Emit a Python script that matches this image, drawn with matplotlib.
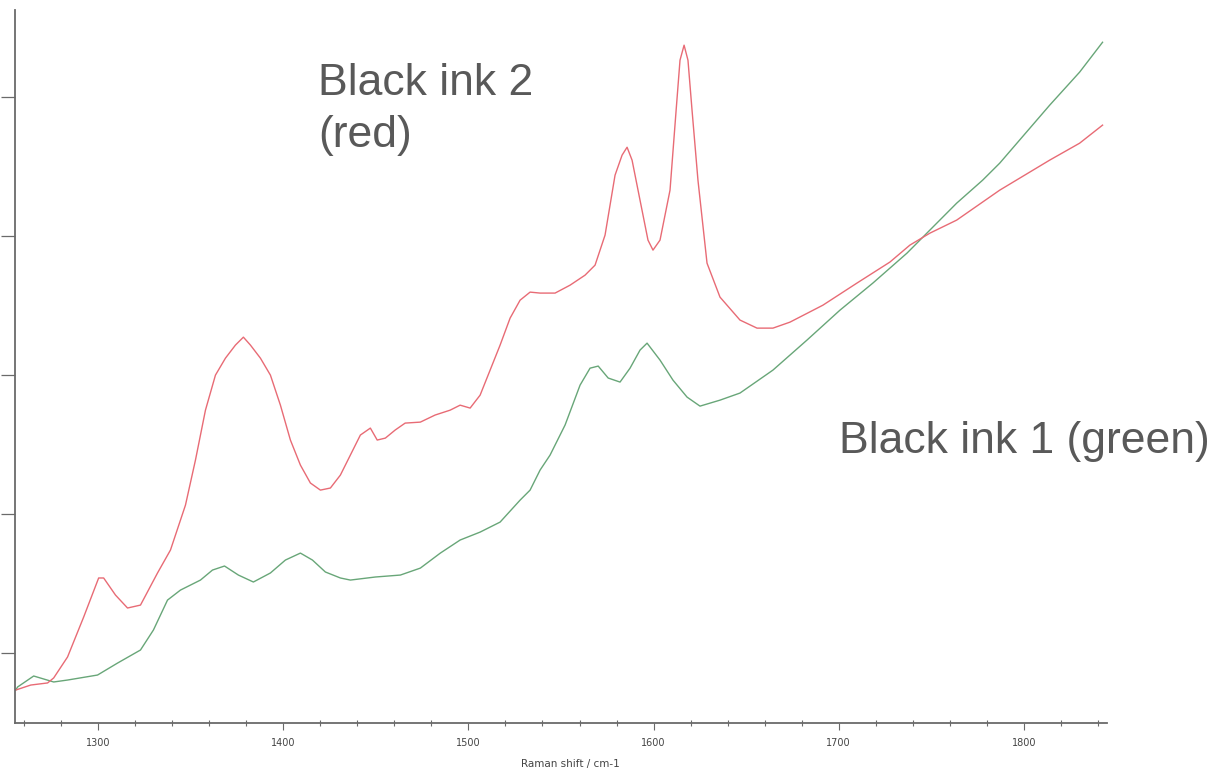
import matplotlib
matplotlib.use('Agg')
import matplotlib.pyplot as plt
from matplotlib.ticker import MultipleLocator, NullFormatter

# Raman spectra of two black inks (wavenumber in cm-1, intensity in counts)
red_shift = [1255.4, 1263.5, 1272.6, 1275.9, 1283.4, 1292.1, 1300.2, 1302.9, 1309.3, 1315.8,
             1322.8, 1332.0, 1339.0, 1347.1, 1352.5, 1357.9, 1363.3, 1368.7, 1374.1, 1378.4,
             1382.2, 1387.6, 1393.0, 1398.4, 1403.8, 1409.2, 1414.6, 1420.0, 1425.4, 1430.8,
             1436.2, 1441.6, 1447.0, 1450.7, 1455.1, 1460.4, 1465.8, 1474.0, 1482.0, 1490.1,
             1495.5, 1500.9, 1506.3, 1511.7, 1517.1, 1522.5, 1527.9, 1533.3, 1538.7, 1546.8,
             1554.9, 1563.0, 1568.4, 1573.8, 1579.2, 1583.0, 1585.7, 1588.4, 1592.7, 1597.0,
             1599.7, 1603.5, 1608.9, 1612.2, 1614.3, 1616.5, 1618.6, 1620.8, 1624.0, 1628.9,
             1635.9, 1646.7, 1655.9, 1664.5, 1673.7, 1691.5, 1709.9, 1727.7, 1738.5, 1749.3,
             1763.8, 1787.0, 1814.0, 1830.2, 1842.6]
red_counts = [237, 273, 288, 324, 475, 762, 1043, 1043, 920, 827,
              848, 1079, 1244, 1567, 1891, 2250, 2502, 2624, 2718, 2775,
              2718, 2624, 2502, 2286, 2035, 1855, 1726, 1675, 1690, 1783,
              1927, 2071, 2121, 2035, 2049, 2107, 2157, 2164, 2215, 2250,
              2286, 2265, 2358, 2538, 2718, 2912, 3041, 3099, 3092, 3092,
              3149, 3221, 3293, 3509, 3940, 4084, 4141, 4048, 3760, 3473,
              3401, 3473, 3832, 4407, 4767, 4875, 4767, 4407, 3904, 3307,
              3063, 2898, 2840, 2840, 2883, 3005, 3164, 3315, 3437, 3523,
              3617, 3832, 4048, 4170, 4300]

green_shift = [1255.4, 1256.4, 1265.1, 1275.9, 1283.4, 1299.6, 1310.4, 1322.8, 1329.8, 1337.4,
               1344.4, 1355.2, 1361.7, 1368.2, 1375.7, 1383.8, 1393.0, 1401.1, 1409.2, 1415.7,
               1422.7, 1430.8, 1436.2, 1449.7, 1463.2, 1474.0, 1484.8, 1495.5, 1506.3, 1517.1,
               1527.9, 1533.3, 1538.7, 1544.1, 1552.2, 1560.3, 1565.7, 1570.1, 1575.5, 1581.9,
               1587.3, 1592.7, 1596.5, 1603.5, 1610.5, 1618.1, 1625.1, 1635.9, 1646.7, 1664.5,
               1682.9, 1700.7, 1718.5, 1736.9, 1749.3, 1763.8, 1777.8, 1787.0, 1814.0, 1830.2,
               1842.6]
green_counts = [237, 259, 338, 295, 309, 345, 431, 525, 669, 884,
                956, 1028, 1100, 1129, 1064, 1014, 1079, 1172, 1222, 1172,
                1086, 1043, 1028, 1050, 1064, 1114, 1222, 1316, 1373, 1445,
                1603, 1675, 1819, 1927, 2143, 2430, 2552, 2567, 2481, 2452,
                2552, 2682, 2732, 2610, 2466, 2344, 2279, 2322, 2373, 2538,
                2754, 2969, 3164, 3379, 3545, 3739, 3904, 4026, 4443, 4681,
                4896]

x_major = [1300, 1400, 1500, 1600, 1700, 1800]
y_major = [500, 1500, 2500, 3500, 4500]

fig = plt.figure(figsize=(12.21, 7.74), dpi=100)
ax = fig.add_axes([15 / 1221, 51 / 774, 1092 / 1221, 713 / 774])

ax.plot(green_shift, green_counts, color='#68a678', lw=1.0)
ax.plot(red_shift, red_counts, color='#e86b75', lw=1.0)

ax.set_xlim(1255, 1845)
ax.set_ylim(0, 5128)

for side in ('top', 'right'):
    ax.spines[side].set_visible(False)
for side in ('left', 'bottom'):
    ax.spines[side].set_color('#6a6a6a')
    ax.spines[side].set_linewidth(1.3)

ax.set_xticks(x_major)
ax.set_xticklabels([str(v) for v in x_major])
ax.xaxis.set_minor_locator(MultipleLocator(20))
ax.tick_params(axis='x', which='major', direction='out', length=5, width=0.8,
               color='#6a6a6a', labelsize=7, labelcolor='#444444', pad=6)
ax.tick_params(axis='x', which='minor', direction='inout', length=4, width=0.8,
               color='#6a6a6a')

ax.set_yticks(y_major)
ax.yaxis.set_major_formatter(NullFormatter())
ax.tick_params(axis='y', which='major', direction='out', length=10, width=0.9,
               color='#6a6a6a')

ax.set_xlabel('Raman shift / cm-1', fontsize=7.5, color='#444444')
ax.xaxis.set_label_coords(0.509, -0.05)

label_font = dict(family=['Liberation Sans', 'DejaVu Sans'], fontsize=32, color='#595959')
fig.text(318 / 1221, 1 - 95 / 774, 'Black ink 2', va='baseline', **label_font)
fig.text(318 / 1221, 1 - 147 / 774, '(red)', va='baseline', **label_font)
fig.text(839 / 1221, 1 - 453 / 774, 'Black ink 1 (green)', va='baseline', **label_font)

fig.savefig('out.png', dpi=100)
